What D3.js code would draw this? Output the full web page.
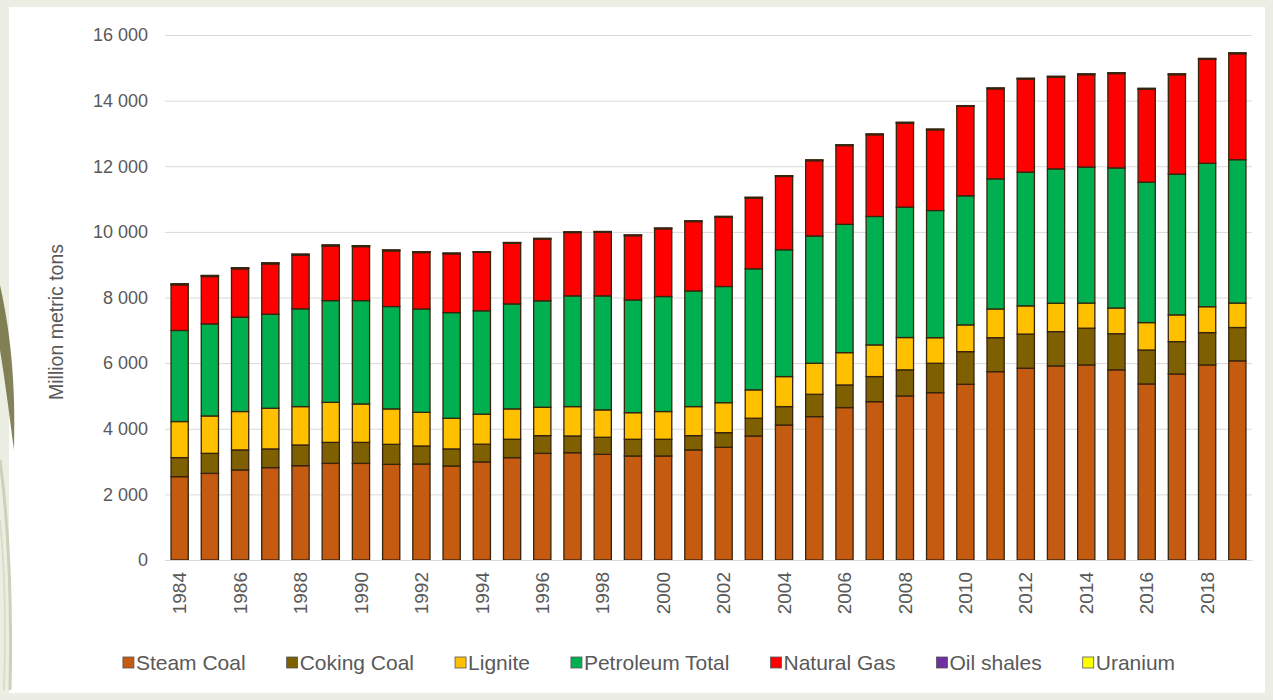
<!DOCTYPE html>
<html>
<head>
<meta charset="utf-8">
<script src="https://cdn.jsdelivr.net/npm/d3@7"></script>
<style>
  html, body { margin: 0; padding: 0; background: #eceee3; }
  svg { display: block; }
  text { font-family: "Liberation Sans", Arial, sans-serif; fill: #595959; }
</style>
</head>
<body>
<svg id="chart" width="1273" height="700"></svg>
<script>
const years = d3.range(1984, 2020);
const seriesNames = ["Steam Coal", "Coking Coal", "Lignite", "Petroleum Total", "Natural Gas", "Oil shales", "Uranium"];
const seriesColors = ["#c55a11", "#7f6000", "#ffc000", "#00b050", "#ff0000", "#7030a0", "#ffff00"];
const yTicks = [0, 2000, 4000, 6000, 8000, 10000, 12000, 14000, 16000];

const steamCoal = [2540, 2640, 2745, 2815, 2875, 2945, 2945, 2915, 2925, 2865, 2990, 3120,
  3250, 3270, 3220, 3170, 3170, 3355, 3435, 3780, 4115, 4370, 4645, 4825,
  5000, 5100, 5355, 5740, 5845, 5915, 5945, 5795, 5365, 5670, 5945, 6070];
const cokingCoal = [580, 610, 610, 570, 630, 640, 640, 610, 550, 520, 540, 560,
  540, 510, 520, 510, 510, 435, 445, 540, 560, 680, 690, 765,
  795, 895, 995, 1035, 1040, 1045, 1120, 1100, 1035, 985, 985, 1015];
const lignite = [1100, 1140, 1170, 1240, 1170, 1220, 1170, 1080, 1025, 935, 915, 925,
  865, 895, 835, 810, 845, 885, 915, 865, 915, 945, 985, 965,
  985, 780, 815, 875, 860, 865, 765, 785, 835, 815, 790, 745];
const petroleum = [2775, 2805, 2875, 2865, 2980, 3100, 3150, 3120, 3150, 3220, 3150, 3200,
  3245, 3375, 3475, 3435, 3505, 3525, 3540, 3690, 3865, 3880, 3910, 3915,
  3975, 3875, 3935, 3965, 4075, 4095, 4145, 4270, 4280, 4290, 4370, 4370];
const naturalGas = [1390, 1445, 1475, 1535, 1635, 1665, 1645, 1695, 1720, 1790, 1780, 1850,
  1880, 1930, 1940, 1960, 2065, 2115, 2115, 2155, 2235, 2295, 2400, 2490,
  2560, 2460, 2725, 2745, 2835, 2795, 2815, 2875, 2835, 3030, 3170, 3230];
const oilShales = [30, 30, 30, 30, 30, 30, 30, 28, 25, 22, 20, 20,
  20, 20, 20, 20, 20, 20, 20, 22, 22, 22, 22, 22,
  22, 20, 22, 24, 24, 24, 24, 22, 22, 24, 24, 24];
const uranium = [0.05, 0.05, 0.05, 0.05, 0.05, 0.05, 0.05, 0.05, 0.04, 0.04, 0.03, 0.03,
  0.04, 0.04, 0.04, 0.03, 0.04, 0.04, 0.04, 0.04, 0.04, 0.04, 0.04, 0.04,
  0.04, 0.05, 0.05, 0.05, 0.06, 0.06, 0.06, 0.06, 0.06, 0.06, 0.05, 0.05];

const seriesValues = [steamCoal, cokingCoal, lignite, petroleum, naturalGas, oilShales, uranium];
const table = years.map((y, i) => {
  const row = { year: y };
  seriesNames.forEach((n, k) => row[n] = seriesValues[k][i]);
  return row;
});

const svg = d3.select("#chart");
const W = 1273, H = 700;

// background panel
svg.append("rect").attr("x", 0).attr("y", 0).attr("width", W).attr("height", H).attr("fill", "#eceee3");
svg.append("rect").attr("x", 9).attr("y", 7).attr("width", 1256).attr("height", 686).attr("fill", "#ffffff");

// decorative left curves
svg.append("path").attr("d", "M0,285 C10,330 16,380 14,450 C10,420 5,380 0,350 Z").attr("fill", "#6e6c3c").attr("opacity", 0.85);
svg.append("path").attr("d", "M0,460 C8,520 12,600 10,690").attr("fill", "none").attr("stroke", "#cfd0b8").attr("stroke-width", 3);
svg.append("path").attr("d", "M0,520 C5,570 6,630 4,690").attr("fill", "none").attr("stroke", "#dcdcc8").attr("stroke-width", 2);

const x = d3.scaleBand().domain(years).range([165, 1252]).paddingInner(0.43).paddingOuter(0.2);
const y = d3.scaleLinear().domain([0, 16000]).range([560, 35]);

const locale = d3.formatLocale({ decimal: ".", thousands: " ", grouping: [3], currency: ["", ""] });
const fmt = locale.format(",d");

// gridlines
svg.append("g").selectAll("line").data(yTicks).join("line")
  .attr("x1", 165).attr("x2", 1252)
  .attr("y1", d => y(d) + 0.5).attr("y2", d => y(d) + 0.5)
  .attr("stroke", "#d9d9d9").attr("stroke-width", 1);

// y axis labels
const yAxis = d3.axisLeft(y).tickValues(yTicks).tickFormat(fmt).tickSize(0).tickPadding(0);
const gy = svg.append("g").attr("transform", "translate(148,0)").call(yAxis);
gy.select(".domain").remove();
gy.selectAll("text").style("font-size", "18px").attr("fill", "#595959");

// axis title
svg.append("text").attr("transform", "translate(63,322) rotate(-90)")
  .attr("text-anchor", "middle").style("font-size", "19.5px").text("Million metric tons");

// stacked bars
const stack = d3.stack().keys(seriesNames)(table);
const color = d3.scaleOrdinal().domain(seriesNames).range(seriesColors);
svg.append("g").selectAll("g").data(stack).join("g")
  .attr("fill", d => color(d.key))
  .selectAll("rect").data(d => d).join("rect")
  .attr("x", d => x(d.data.year))
  .attr("width", x.bandwidth())
  .attr("y", d => y(d[1]))
  .attr("height", d => Math.max(0, y(d[0]) - y(d[1])))
  .attr("stroke", "#35240e").attr("stroke-width", 1.3);

// x axis
const xAxis = d3.axisBottom(x).tickValues(years.filter(d => (d - 1984) % 2 === 0)).tickSize(0).tickPadding(0);
const gx = svg.append("g").attr("transform", "translate(0,560)").call(xAxis);
gx.select(".domain").attr("stroke", "#d9d9d9");
gx.selectAll("text").style("font-size", "19px").attr("fill", "#595959")
  .attr("transform", "rotate(-90)").attr("text-anchor", "end")
  .attr("x", -12).attr("y", 0).attr("dy", "0.35em");

// legend
const lg = svg.append("g").attr("transform", "translate(0,663)");
const items = lg.selectAll("g").data(seriesNames).join("g");
items.append("rect").attr("width", 11).attr("height", 11).attr("y", -6)
  .attr("fill", d => color(d)).attr("stroke", "#555").attr("stroke-width", 0.8);
items.append("text").attr("x", 13).attr("dy", "0.35em").style("font-size", "21px").text(d => d);
let widths = [];
items.each(function() { widths.push(this.getBBox().width); });
const gap = 41;
const total = d3.sum(widths) + gap * (widths.length - 1);
let cx = 649 - total / 2;
items.attr("transform", (d, i) => { const t = `translate(${cx},0)`; cx += widths[i] + gap; return t; });
</script>
</body>
</html>
